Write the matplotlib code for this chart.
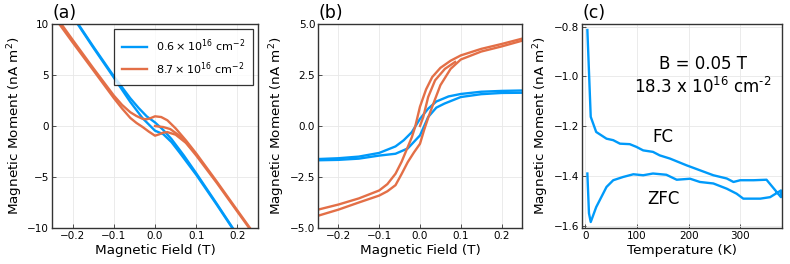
import matplotlib
matplotlib.use("Agg")
import matplotlib.pyplot as plt
import numpy as np

BLUE = "#009AFA"
ORANGE = "#E36F47"

# ---- panel (b): raw loops ----
b_blue_desc_x = [0.25, 0.2, 0.15, 0.1, 0.07, 0.04, 0.02, 0.0, -0.02, -0.04, -0.06, -0.1, -0.15, -0.2, -0.25]
b_blue_desc_y = [1.74, 1.72, 1.68, 1.57, 1.45, 1.2, 0.85, 0.35, -0.3, -0.7, -1.0, -1.32, -1.5, -1.58, -1.62]
b_blue_asc_x = [-0.25, -0.2, -0.15, -0.1, -0.06, -0.03, 0.0, 0.02, 0.04, 0.06, 0.1, 0.15, 0.2, 0.25]
b_blue_asc_y = [-1.68, -1.66, -1.6, -1.45, -1.36, -1.1, -0.46, 0.44, 0.9, 1.1, 1.42, 1.56, 1.62, 1.63]

b_or_desc_x = [0.25, 0.2, 0.15, 0.1, 0.075, 0.05, 0.03, 0.015, 0.0, -0.012, -0.02, -0.03, -0.045, -0.06, -0.08, -0.1, -0.15, -0.2, -0.25]
b_or_desc_y = [4.28, 4.02, 3.78, 3.46, 3.20, 2.85, 2.40, 1.80, 0.95, -0.05, -0.55, -1.03, -1.75, -2.34, -2.85, -3.16, -3.55, -3.85, -4.10]
b_or_asc_x = [-0.25, -0.2, -0.15, -0.1, -0.08, -0.06, -0.045, -0.03, -0.015, 0.0, 0.01, 0.02, 0.03, 0.05, 0.075, 0.1, 0.15, 0.2, 0.25]
b_or_asc_y = [-4.40, -4.10, -3.75, -3.41, -3.2, -2.9, -2.35, -1.77, -1.3, -0.87, -0.2, 0.4, 0.95, 2.0, 2.8, 3.26, 3.65, 3.90, 4.18]
b_or_virgin_x = [0.0, 0.008, 0.02, 0.037, 0.061, 0.086]
b_or_virgin_y = [0.0, 0.44, 1.42, 2.24, 2.8, 3.14]

# ---- panel (a): loops with diamagnetic background ----
a_blue_desc_x = [0.25, 0.2, 0.15, 0.1, 0.07, 0.04, 0.02, 0.0, -0.02, -0.04, -0.06, -0.1, -0.15, -0.2, -0.25]
a_blue_desc_y = [-13.78, -10.69, -7.63, -4.63, -2.89, -1.28, -0.39, 0.35, 0.94, 1.78, 2.72, 4.88, 7.8, 10.82, 13.88]
a_blue_asc_x = [-0.25, -0.2, -0.15, -0.1, -0.06, -0.03, 0.0, 0.02, 0.04, 0.06, 0.1, 0.15, 0.2, 0.25]
a_blue_asc_y = [13.82, 10.74, 7.7, 4.75, 2.36, 0.76, -0.46, -0.8, -1.58, -2.62, -4.78, -7.72, -10.76, -13.84]

a_or_desc_x = [0.25, 0.2, 0.15, 0.1, 0.075, 0.05, 0.03, 0.015, 0.0, -0.012, -0.02, -0.03, -0.045, -0.06, -0.08, -0.1, -0.15, -0.2, -0.25]
a_or_desc_y = [-11.1, -8.28, -5.45, -2.69, -1.41, -0.23, 0.56, 0.88, 0.95, 0.75, 0.66, 0.7, 0.98, 1.35, 2.07, 2.99, 5.68, 8.45, 11.28]
a_or_asc_x = [-0.25, -0.2, -0.15, -0.1, -0.08, -0.06, -0.045, -0.03, -0.015, 0.0, 0.01, 0.02, 0.03, 0.05, 0.075, 0.1, 0.15, 0.2, 0.25]
a_or_asc_y = [10.98, 8.2, 5.48, 2.74, 1.72, 0.79, 0.3, -0.1, -0.55, -0.95, -0.82, -0.65, -0.6, -0.85, -1.65, -2.89, -5.58, -8.4, -11.2]
a_or_virgin_x = [0.0, 0.008, 0.02, 0.037, 0.061, 0.086]
a_or_virgin_y = [0.0, -0.05, -0.1, -0.3, -1.0, -2.1]

# ---- panel (c): ZFC then FC ----
zfc_T = [3.9, 7, 10.4, 21, 41, 54, 73, 93, 112, 131, 157, 177, 203, 222, 248, 274, 293, 306, 339, 358, 379]
zfc_M = [-1.39, -1.55, -1.585, -1.525, -1.444, -1.417, -1.404, -1.393, -1.397, -1.39, -1.395, -1.415, -1.411,
         -1.424, -1.43, -1.451, -1.471, -1.491, -1.491, -1.485, -1.458]
fc_T = [379, 351, 326, 300, 287, 274, 248, 222, 196, 164, 144, 131, 112, 99, 86, 67, 54, 41, 21, 10.4, 3.9]
fc_M = [-1.485, -1.415, -1.417, -1.417, -1.424, -1.41, -1.397, -1.377, -1.357, -1.33, -1.317, -1.303, -1.297,
        -1.283, -1.272, -1.27, -1.256, -1.25, -1.223, -1.162, -0.813]

legend_labels = [r"$0.6\times10^{16}\ \mathrm{cm}^{-2}$", r"$8.7\times10^{16}\ \mathrm{cm}^{-2}$"]

plt.rcParams["font.family"] = "DejaVu Sans"
plt.rcParams["mathtext.fontset"] = "dejavusans"

fig = plt.figure(figsize=(7.9, 2.64), dpi=100)
bot, top = 1 - 228 / 264, 1 - 24 / 264
axa = fig.add_axes([52 / 790, bot, (258 - 52) / 790, top - bot])
axb = fig.add_axes([318 / 790, bot, (522 - 318) / 790, top - bot])
axc = fig.add_axes([582 / 790, bot, (782 - 582) / 790, top - bot])

LW = 1.7
def style(ax):
    ax.grid(True, color="#e8e8e8", linewidth=0.6)
    ax.set_axisbelow(True)
    for s in ax.spines.values():
        s.set_color("#333333")
        s.set_linewidth(1.0)
    ax.tick_params(direction="in", length=3, width=0.6, labelsize=7.5, color="#333333",
                   top=False, right=False, pad=2)

# (a)
axa.plot(a_blue_desc_x, a_blue_desc_y, color=BLUE, lw=LW, label=legend_labels[0])
axa.plot(a_blue_asc_x, a_blue_asc_y, color=BLUE, lw=LW)
axa.plot(a_or_virgin_x, a_or_virgin_y, color=ORANGE, lw=LW)
axa.plot(a_or_desc_x, a_or_desc_y, color=ORANGE, lw=LW, label=legend_labels[1])
axa.plot(a_or_asc_x, a_or_asc_y, color=ORANGE, lw=LW)
axa.set_xlim(-0.25, 0.25)
axa.set_ylim(-10, 10)
axa.set_xticks([-0.2, -0.1, 0.0, 0.1, 0.2])
axa.set_yticks([-10, -5, 0, 5, 10])
axa.set_xticklabels(["−0.2", "−0.1", "0.0", "0.1", "0.2"])
axa.set_yticklabels(["−10", "−5", "0", "5", "10"])
style(axa)
leg = axa.legend(loc="upper right", fontsize=8, frameon=True, fancybox=False,
                 edgecolor="black", borderaxespad=0.45, handlelength=2.2,
                 borderpad=0.75, labelspacing=0.55, handletextpad=0.8)
leg.get_frame().set_linewidth(0.9)

# (b)
axb.plot(b_blue_desc_x, b_blue_desc_y, color=BLUE, lw=LW)
axb.plot(b_blue_asc_x, b_blue_asc_y, color=BLUE, lw=LW)
axb.plot(b_or_virgin_x, b_or_virgin_y, color=ORANGE, lw=LW)
axb.plot(b_or_desc_x, b_or_desc_y, color=ORANGE, lw=LW)
axb.plot(b_or_asc_x, b_or_asc_y, color=ORANGE, lw=LW)
axb.set_xlim(-0.25, 0.25)
axb.set_ylim(-5, 5)
axb.set_xticks([-0.2, -0.1, 0.0, 0.1, 0.2])
axb.set_yticks([-5, -2.5, 0, 2.5, 5])
axb.set_xticklabels(["−0.2", "−0.1", "0.0", "0.1", "0.2"])
axb.set_yticklabels(["−5.0", "−2.5", "0.0", "2.5", "5.0"])
style(axb)

# (c)
axc.plot(np.concatenate([zfc_T, fc_T]), np.concatenate([zfc_M, fc_M]), color=BLUE, lw=LW)
axc.set_xlim(-6.5, 381)
axc.set_ylim(-1.609, -0.789)
axc.set_xticks([0, 100, 200, 300])
axc.set_yticks([-1.6, -1.4, -1.2, -1.0, -0.8])
axc.set_yticklabels(["−1.6", "−1.4", "−1.2", "−1.0", "−0.8"])
style(axc)
axc.text(0.605, 0.805, "B = 0.05 T", transform=axc.transAxes, ha="center", va="center", fontsize=12)
axc.text(0.605, 0.69, "18.3 x 10$^{16}$ cm$^{\u20102}$", transform=axc.transAxes,
         ha="center", va="center", fontsize=12)
axc.text(0.405, 0.445, "FC", transform=axc.transAxes, ha="center", va="center", fontsize=12)
axc.text(0.405, 0.14, "ZFC", transform=axc.transAxes, ha="center", va="center", fontsize=12)

for ax, lab in ((axa, "(a)"), (axb, "(b)"), (axc, "(c)")):
    ax.set_ylabel("Magnetic Moment (nA m$^2$)", fontsize=9.7, labelpad=2)
    ax.text(0.0, 1.012, lab, transform=ax.transAxes, ha="left", va="bottom", fontsize=12.5)
axa.set_xlabel("Magnetic Field (T)", fontsize=9.7, labelpad=2)
axb.set_xlabel("Magnetic Field (T)", fontsize=9.7, labelpad=2)
axc.set_xlabel("Temperature (K)", fontsize=9.7, labelpad=2)

fig.savefig("out.png", dpi=100)
